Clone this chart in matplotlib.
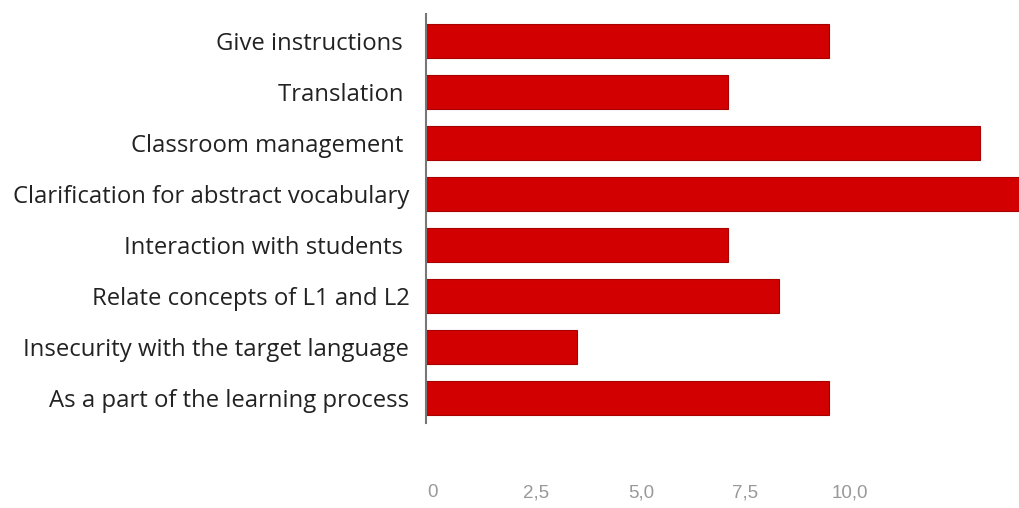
import matplotlib
matplotlib.use("Agg")
import matplotlib.pyplot as plt

categories = [
    "Give instructions ",
    "Translation ",
    "Classroom management ",
    "Clarification for abstract vocabulary",
    "Interaction with students ",
    "Relate concepts of L1 and L2",
    "Insecurity with the target language",
    "As a part of the learning process",
]
values = [8, 6, 11, 12, 6, 7, 3, 8]
tick_labels = ["0", "2,5", "5,0", "7,5", "10,0"]

W, H = 1019, 508
fig = plt.figure(figsize=(W / 100, H / 100), dpi=100)
ax = fig.add_axes([426 / W, 1 - 423 / H, (W - 426) / W, (423 - 14) / H])

ypos = list(range(len(categories)))
ax.barh(ypos, values, height=0.67, color="#d20000", edgecolor="#a80000", linewidth=0.8, zorder=2)
ax.set_xlim(0, (W - 426) / 50.4)
ax.set_ylim(7.49, -0.53)
ax.set_yticks(ypos)
ax.set_yticklabels(categories, fontsize=17.2, color="#222222", family=["Open Sans", "DejaVu Sans"])
ax.tick_params(axis="y", length=0, pad=12)

tick_pos = [0.12 + 2.073 * i for i in range(len(tick_labels))]
ax.set_xticks(tick_pos)
ax.set_xticklabels(tick_labels, fontsize=13.5, color="#999999", family=["Liberation Sans", "DejaVu Sans"])
ax.tick_params(axis="x", length=0, pad=44)

for s in ["top", "right", "bottom"]:
    ax.spines[s].set_visible(False)
ax.spines["left"].set_color("#777777")
ax.spines["left"].set_linewidth(1.5)

fig.savefig("out.png", dpi=100)
